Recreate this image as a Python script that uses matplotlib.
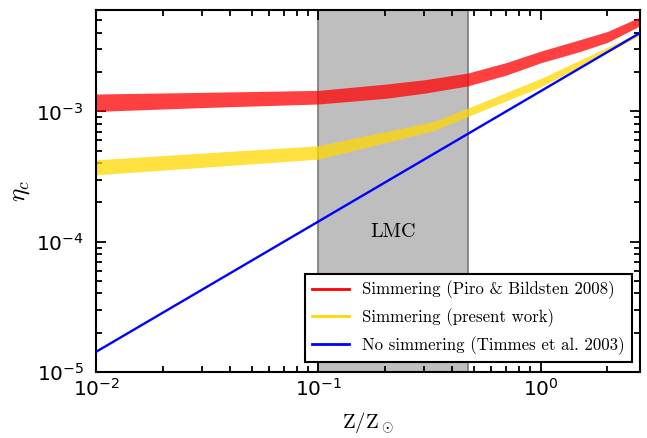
import matplotlib
matplotlib.use("Agg")
import matplotlib.pyplot as plt
from matplotlib.lines import Line2D
from matplotlib.ticker import LogLocator

# Data
x_red = [0.01, 0.03, 0.1, 0.2, 0.3, 0.47, 0.7, 1.0, 1.5, 2.0, 2.8]
red_lo = [1.00e-3, 1.07e-3, 1.14e-3, 1.26e-3, 1.38e-3, 1.57e-3, 1.90e-3, 2.36e-3, 2.88e-3, 3.39e-3, 4.54e-3]
red_hi = [1.36e-3, 1.40e-3, 1.45e-3, 1.62e-3, 1.75e-3, 1.97e-3, 2.37e-3, 2.90e-3, 3.55e-3, 4.11e-3, 5.30e-3]

x_yel = [0.01, 0.1, 0.33, 0.47, 1.0, 2.8]
yel_lo = [3.26e-4, 4.30e-4, 7.13e-4, 9.14e-4, 1.54e-3, 3.81e-3]
yel_hi = [4.25e-4, 5.45e-4, 8.36e-4, 1.06e-3, 1.79e-3, 4.06e-3]

x_blue = [0.01, 2.8]
y_blue = [1.43e-5, 4.0e-3]

lmc_range = [0.1, 0.47]
legend_labels = ["Simmering (Piro & Bildsten 2008)",
                 "Simmering (present work)",
                 "No simmering (Timmes et al. 2003)"]

fig = plt.figure(figsize=(6.47, 4.38), dpi=100)
ax = fig.add_axes([0.149, 0.151, 0.840, 0.826])

ax.axvspan(lmc_range[0], lmc_range[1], facecolor="#bebebe", edgecolor="#7a7a7a",
           linewidth=1.2, zorder=0)
ax.fill_between(x_red, red_lo, red_hi, color="red", alpha=0.75, linewidth=0, zorder=2)
ax.fill_between(x_yel, yel_lo, yel_hi, color="gold", alpha=0.75, linewidth=0, zorder=2)
ax.plot(x_blue, y_blue, color="blue", linewidth=1.7, zorder=3)

ax.text(10 ** ((-1 + (-0.328)) / 2), 1.19e-4, "LMC", ha="center", va="center",
        family=["cmr10"], fontsize=14.5)

ax.set_xscale("log")
ax.set_yscale("log")
ax.set_xlim(0.01, 2.8)
ax.set_ylim(1e-5, 6e-3)

ax.xaxis.set_major_locator(LogLocator(base=10, numticks=10))
ax.xaxis.set_minor_locator(LogLocator(base=10, subs=range(2, 10), numticks=20))
ax.yaxis.set_major_locator(LogLocator(base=10, numticks=10))
ax.yaxis.set_minor_locator(LogLocator(base=10, subs=range(2, 10), numticks=20))

ax.tick_params(which="both", direction="in", top=True, right=True, width=1.3)
ax.tick_params(which="major", length=7)
ax.tick_params(which="minor", length=4)
ax.tick_params(axis="x", which="major", labelsize=14.5, pad=4)
ax.tick_params(axis="y", which="major", labelsize=14.5, pad=9)
for s in ax.spines.values():
    s.set_linewidth(1.5)

ax.set_xlabel(r"$\mathrm{Z/Z}_\odot$", fontsize=15, math_fontfamily="cm", labelpad=8)
ax.set_ylabel(r"$\eta_c$", fontsize=18, math_fontfamily="cm", labelpad=3)

handles = [Line2D([], [], color="red", lw=2),
           Line2D([], [], color="gold", lw=2),
           Line2D([], [], color="blue", lw=2)]
leg = ax.legend(handles, legend_labels, loc="lower right", bbox_to_anchor=(0.985, 0.028),
                borderaxespad=0, fancybox=False, framealpha=1, edgecolor="black",
                handlelength=2.2, labelspacing=0.55,
                prop={"family": ["cmr10"], "size": 12.1})
leg.get_frame().set_linewidth(1.5)
leg.set_zorder(5)

fig.savefig("out.png", dpi=100)
